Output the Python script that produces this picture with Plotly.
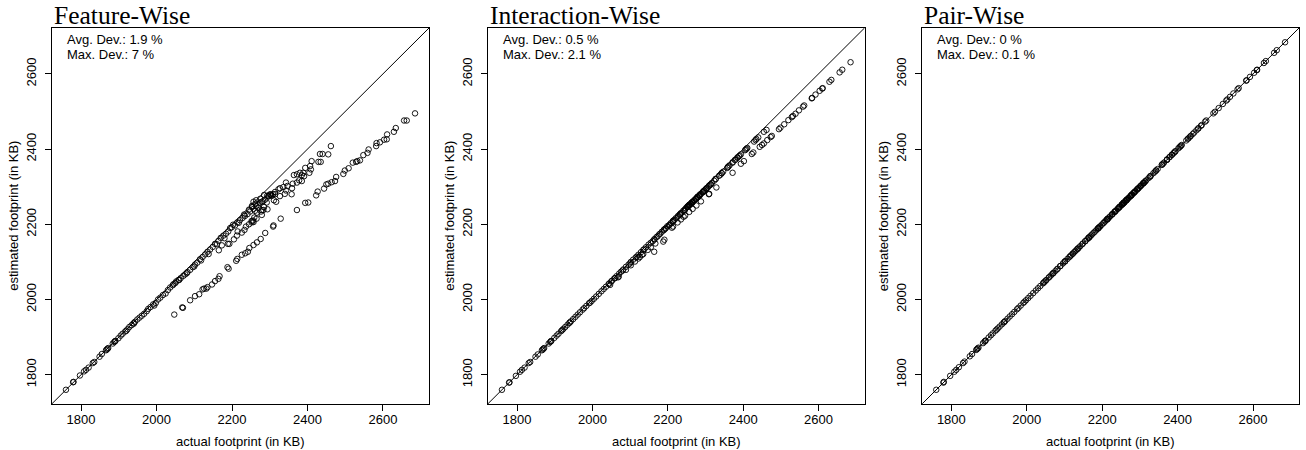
import plotly.graph_objects as go

# ---------------- data ----------------
# configurations close to the diagonal (low footprints)
actual_a = [1760, 1779, 1780, 1797, 1808, 1813, 1820, 1831, 1835, 1849, 1855, 1866, 1868, 1870, 1872,
            1884, 1888, 1890, 1891, 1899, 1905, 1910, 1917, 1920, 1923, 1928, 1934, 1939, 1940, 1943,
            1949, 1955, 1961, 1967, 1974, 1978, 1984, 1991, 1994, 1998, 2004, 2010, 2017, 2024, 2030,
            2036, 2043, 2050]
feature_a = [1760, 1780, 1781, 1798, 1809, 1813, 1819, 1831, 1834, 1848, 1855, 1865, 1867, 1869, 1871,
             1883, 1887, 1889, 1890, 1897, 1904, 1909, 1915, 1917, 1921, 1927, 1932, 1937, 1936, 1941,
             1947, 1952, 1957, 1962, 1969, 1975, 1980, 1987, 1984, 1991, 2000, 2005, 2012, 2016, 2025,
             2032, 2038, 2044]
inter_a = [1760, 1779, 1780, 1797, 1808, 1813, 1819, 1831, 1834, 1848, 1854, 1865, 1867, 1869, 1871,
           1883, 1887, 1889, 1890, 1898, 1904, 1909, 1916, 1919, 1922, 1927, 1933, 1938, 1939, 1942,
           1948, 1954, 1960, 1966, 1973, 1977, 1983, 1990, 1992, 1996, 2002, 2008, 2015, 2022, 2028,
           2034, 2041, 2048]
pair_a = [1760, 1779, 1781, 1797, 1808, 1813, 1820, 1831, 1835, 1849, 1855, 1866, 1868, 1870, 1872,
          1884, 1888, 1890, 1891, 1899, 1905, 1910, 1917, 1920, 1923, 1928, 1934, 1939, 1940, 1943,
          1949, 1955, 1961, 1967, 1974, 1978, 1984, 1991, 1994, 1998, 2004, 2010, 2017, 2024, 2030,
          2036, 2043, 2050]

# upper band of medium footprints
actual_b = [2045, 2052, 2058, 2064, 2071, 2076, 2082, 2089, 2096, 2102, 2108, 2115, 2122, 2129, 2135,
            2142, 2149, 2155, 2164, 2170, 2177, 2184, 2190, 2199, 2208, 2214, 2221, 2228, 2234, 2241,
            2248, 2257, 2264, 2270, 2279, 2288, 2296, 2302, 2314,
            2060, 2080, 2100, 2118, 2138, 2160, 2180, 2195, 2203, 2218, 2232, 2245, 2253, 2262, 2275,
            2285, 2293, 2300, 2306]
feature_b = [2041, 2048, 2052, 2057, 2063, 2067, 2073, 2079, 2086, 2093, 2098, 2107, 2113, 2120, 2127,
             2133, 2140, 2148, 2156, 2164, 2170, 2175, 2181, 2192, 2197, 2205, 2211, 2217, 2222, 2227,
             2234, 2241, 2248, 2252, 2260, 2266, 2274, 2280, 2286,
             2052, 2070, 2088, 2104, 2121, 2147, 2163, 2190, 2199, 2204, 2226, 2239, 2246, 2255, 2268,
             2278, 2276, 2279, 2276]
inter_b = [2043, 2050, 2056, 2062, 2069, 2074, 2080, 2087, 2093, 2100, 2106, 2112, 2119, 2126, 2132,
           2139, 2146, 2151, 2160, 2166, 2173, 2180, 2186, 2195, 2203, 2209, 2216, 2223, 2229, 2236,
           2243, 2251, 2258, 2264, 2272, 2281, 2289, 2295, 2306,
           2057, 2077, 2096, 2114, 2134, 2155, 2175, 2190, 2197, 2212, 2226, 2238, 2246, 2255, 2267,
           2277, 2285, 2292, 2298]
pair_b = [2045, 2052, 2058, 2064, 2071, 2076, 2082, 2089, 2096, 2102, 2108, 2115, 2122, 2129, 2135,
          2142, 2149, 2155, 2164, 2170, 2177, 2184, 2190, 2199, 2208, 2214, 2221, 2228, 2234, 2241,
          2248, 2257, 2264, 2270, 2279, 2288, 2296, 2302, 2314,
          2060, 2080, 2100, 2118, 2138, 2160, 2180, 2195, 2203, 2218, 2232, 2245, 2253, 2262, 2275,
          2285, 2293, 2300, 2306]

# scattered middle band
actual_c = [2165, 2173, 2189, 2193, 2205, 2213, 2215, 2226, 2233, 2237, 2245, 2252, 2256, 2265, 2277, 2283,
            2252, 2257, 2259, 2279, 2266, 2261, 2270, 2279, 2285, 2294, 2253, 2257, 2264, 2274, 2283,
            2292, 2297, 2303, 2309, 2314, 2311, 2317, 2327, 2340, 2358, 2323, 2327, 2343, 2359, 2336,
            2347, 2343, 2361, 2372, 2378, 2385, 2364, 2372, 2380, 2389, 2385, 2391, 2394, 2405, 2407,
            2409, 2411, 2429, 2435, 2433, 2440, 2455, 2462]
feature_c = [2131, 2144, 2148, 2148, 2160, 2170, 2181, 2178, 2185, 2194, 2200, 2205, 2210, 2215, 2234, 2238,
             2209, 2206, 2218, 2225, 2231, 2236, 2244, 2238, 2246, 2240, 2249, 2260, 2264, 2258, 2262,
             2258, 2275, 2278, 2280, 2280, 2264, 2260, 2275, 2281, 2280, 2293, 2296, 2290, 2296, 2299,
             2302, 2311, 2308, 2311, 2317, 2315, 2331, 2333, 2337, 2337, 2331, 2328, 2350, 2337, 2355,
             2346, 2368, 2366, 2366, 2387, 2387, 2386, 2408]
inter_c = [2160, 2168, 2184, 2188, 2199, 2207, 2210, 2220, 2227, 2231, 2239, 2246, 2250, 2258, 2270, 2276,
           2247, 2251, 2253, 2273, 2260, 2255, 2263, 2273, 2279, 2287, 2248, 2252, 2258, 2268, 2276,
           2285, 2290, 2296, 2302, 2306, 2304, 2310, 2320, 2332, 2350, 2316, 2321, 2336, 2352, 2329,
           2340, 2336, 2354, 2364, 2371, 2377, 2357, 2365, 2372, 2381, 2378, 2383, 2386, 2397, 2399,
           2401, 2403, 2420, 2427, 2424, 2431, 2446, 2451]
pair_c = [2165, 2173, 2189, 2193, 2205, 2213, 2215, 2226, 2233, 2237, 2245, 2252, 2256, 2265, 2277, 2283,
          2252, 2257, 2259, 2279, 2266, 2261, 2270, 2279, 2285, 2294, 2253, 2257, 2264, 2274, 2283,
          2292, 2297, 2303, 2309, 2314, 2311, 2317, 2327, 2340, 2358, 2323, 2327, 2343, 2359, 2336,
          2347, 2343, 2361, 2372, 2378, 2385, 2364, 2372, 2380, 2389, 2385, 2391, 2394, 2405, 2407,
          2409, 2411, 2429, 2435, 2433, 2440, 2455, 2462]

# lower band (largest deviations)
actual_d = [2047, 2068, 2070, 2089, 2102, 2113, 2122, 2126, 2132, 2135, 2147, 2155, 2164, 2167, 2188,
            2191, 2211, 2214, 2226, 2235, 2242, 2246, 2257, 2266, 2276, 2288, 2309, 2310, 2329, 2372,
            2394, 2402, 2423, 2427, 2444, 2450, 2455, 2464, 2473, 2476, 2495, 2499, 2509, 2520, 2529,
            2532, 2539, 2548, 2559, 2562, 2582, 2583, 2592, 2603, 2610, 2611, 2629, 2634, 2656, 2663,
            2685]
feature_d = [1960, 1979, 1978, 1998, 2009, 2014, 2027, 2029, 2029, 2033, 2040, 2049, 2055, 2062, 2086,
             2082, 2103, 2108, 2119, 2123, 2127, 2137, 2145, 2152, 2161, 2177, 2194, 2197, 2215, 2238,
             2257, 2258, 2277, 2287, 2295, 2306, 2308, 2312, 2315, 2326, 2334, 2343, 2349, 2364, 2366,
             2368, 2370, 2384, 2390, 2399, 2408, 2416, 2418, 2425, 2426, 2439, 2446, 2456, 2476, 2476,
             2495]
inter_d = [2039, 2059, 2061, 2079, 2091, 2101, 2109, 2113, 2119, 2121, 2132, 2139, 2127, 2149, 2154,
           2159, 2191, 2194, 2205, 2213, 2220, 2223, 2233, 2241, 2250, 2261, 2280, 2281, 2298, 2337,
           2361, 2368, 2387, 2391, 2406, 2411, 2415, 2424, 2432, 2435, 2453, 2457, 2466, 2477, 2485,
           2488, 2494, 2503, 2513, 2516, 2535, 2536, 2545, 2555, 2561, 2562, 2579, 2584, 2604, 2611,
           2631]
pair_d = [2047, 2068, 2070, 2089, 2102, 2113, 2122, 2126, 2132, 2135, 2147, 2155, 2164, 2167, 2188,
          2191, 2211, 2214, 2226, 2235, 2242, 2246, 2257, 2266, 2276, 2288, 2309, 2310, 2329, 2372,
          2394, 2402, 2423, 2427, 2444, 2450, 2455, 2464, 2473, 2476, 2495, 2499, 2509, 2520, 2529,
          2532, 2539, 2548, 2559, 2562, 2582, 2583, 2592, 2603, 2610, 2611, 2629, 2634, 2656, 2663,
          2684]

panel_titles = ["Feature-Wise", "Interaction-Wise", "Pair-Wise"]
avg_dev = ["Avg. Dev.: 1.9 %", "Avg. Dev.: 0.5 %", "Avg. Dev.: 0 %"]
max_dev = ["Max. Dev.: 7 %", "Max. Dev.: 2.1 %", "Max. Dev.: 0.1 %"]
tick_values = [1800, 2000, 2200, 2400, 2600]
x_label = "actual footprint (in KB)"
y_label = "estimated footprint (in KB)"

# ---------------- figure ----------------
actual = actual_a + actual_b + actual_c + actual_d
estimates = [feature_a + feature_b + feature_c + feature_d,
             inter_a + inter_b + inter_c + inter_d,
             pair_a + pair_b + pair_c + pair_d]

all_vals = actual + [v for e in estimates for v in e]
lo, hi = min(all_vals), max(all_vals)
pad = 0.04 * (hi - lo)
rng = [lo - pad, hi + pad]

W, H = 1306, 450
x_dom_px = [(52, 429), (488, 864.5), (922.3, 1299)]
y_dom_px = (28, 403.7)
y_dom = [1 - y_dom_px[1] / H, 1 - y_dom_px[0] / H]

FONT = "Liberation Sans, Arial, sans-serif"
fig = go.Figure()
layout = dict(width=W, height=H, margin=dict(l=0, r=0, t=0, b=0),
              paper_bgcolor="white", plot_bgcolor="white", showlegend=False,
              font=dict(family=FONT, size=13, color="black"))
annotations = []
shapes = []
for i in range(3):
    sfx = "" if i == 0 else str(i + 1)
    xa, ya = "x" + sfx, "y" + sfx
    fig.add_trace(go.Scatter(
        x=actual, y=estimates[i], mode="markers", xaxis=xa, yaxis=ya,
        marker=dict(symbol="circle-open", size=5.5, color="black", line=dict(width=0.9)),
        hoverinfo="x+y"))
    common = dict(range=rng, tickvals=tick_values, ticks="outside", ticklen=6, tickwidth=1,
                  tickcolor="black", showline=True, linecolor="black", linewidth=1, mirror=True,
                  showgrid=False, zeroline=False, automargin=False,
                  tickfont=dict(family=FONT, size=13, color="black"))
    layout["xaxis" + sfx] = dict(common, domain=[x_dom_px[i][0] / W, x_dom_px[i][1] / W], anchor=ya,
                                 ticklabelstandoff=-2)
    layout["yaxis" + sfx] = dict(common, domain=y_dom, anchor=xa, tickangle=-90,
                                 ticklabelstandoff=4)
    # reference line y = x across the square panel
    shapes.append(dict(type="line", xref=xa + " domain", yref=ya + " domain",
                       x0=0, y0=0, x1=1, y1=1, line=dict(color="black", width=1)))
    cx = (x_dom_px[i][0] + x_dom_px[i][1]) / 2 / W
    annotations += [
        dict(text=panel_titles[i], xref=xa + " domain", yref=ya + " domain", x=0, y=1,
             xanchor="left", yanchor="bottom", yshift=-4, showarrow=False,
             font=dict(family="Liberation Serif, Times New Roman, serif", size=25.5, color="black")),
        dict(text=avg_dev[i], xref=xa + " domain", yref=ya + " domain", x=13 / 377, y=1 - 12 / 376,
             xanchor="left", yanchor="middle", showarrow=False, font=dict(size=13)),
        dict(text=max_dev[i], xref=xa + " domain", yref=ya + " domain", x=13 / 377, y=1 - 26.5 / 376,
             xanchor="left", yanchor="middle", showarrow=False, font=dict(size=13)),
        dict(text=x_label, xref="paper", yref="paper", x=cx, y=1 - 441.5 / H,
             xanchor="center", yanchor="middle", showarrow=False, font=dict(size=13)),
        dict(text=y_label, xref="paper", yref="paper", x=(x_dom_px[i][0] - 38) / W,
             y=(y_dom[0] + y_dom[1]) / 2, textangle=-90,
             xanchor="center", yanchor="middle", showarrow=False, font=dict(size=13)),
    ]
layout["annotations"] = annotations
layout["shapes"] = shapes
fig.update_layout(**layout)
fig.write_html("out.html", config={"displayModeBar": False},
               post_script="document.body.style.margin='0px';")
